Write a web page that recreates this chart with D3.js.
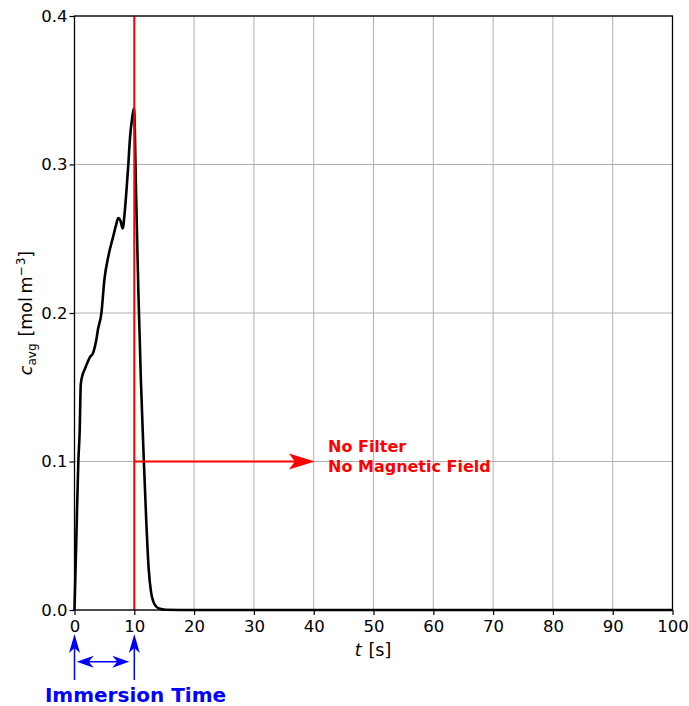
<!DOCTYPE html>
<html><head><meta charset="utf-8">
<script src="https://cdn.jsdelivr.net/npm/d3@7"></script>
<style>
html,body{margin:0;padding:0;background:#fff;}
svg{display:block;}
text{font-family:"DejaVu Sans",sans-serif;}
</style></head>
<body>
<svg id="chart" width="689" height="706"></svg>
<script>
const time = [0, 0.3, 0.64, 0.87, 1.05, 1.4, 1.7, 2.1, 2.54, 3.1, 3.65, 3.93, 4.5, 5.0, 5.65, 6.5, 7.0, 7.3, 7.7, 8.05, 8.4, 8.7, 9.0, 9.3, 9.6, 9.95, 10.3, 10.67, 11.1, 11.6, 12.0, 12.4, 12.8, 13.2, 13.7, 14.3, 15.2, 20, 30, 40, 50, 60, 70, 80, 90, 100];
const cavg = [0, 0.047, 0.1, 0.121, 0.152, 0.159, 0.162, 0.166, 0.17, 0.173, 0.182, 0.189, 0.2, 0.2225, 0.238, 0.252, 0.26, 0.264, 0.262, 0.257, 0.268, 0.283, 0.30, 0.319, 0.33, 0.338, 0.28, 0.216, 0.155, 0.1, 0.06, 0.028, 0.012, 0.0055, 0.0022, 0.0008, 0.0002, 0, 0, 0, 0, 0, 0, 0, 0, 0];
const xTicks = [0,10,20,30,40,50,60,70,80,90,100];
const yTicks = [0.0,0.1,0.2,0.3,0.4];
const immersionEnd = 10;
const markerLevel = 0.1;
const markerArrowEnd = 40.2;
const noteLines = ["No Filter","No Magnetic Field"];
const immersionLabel = "Immersion Time";

const svg = d3.select("#chart");
const m = {l:74.5, t:16, r:689-672.5, b:706-610};
const W = 689-m.l-m.r, H = 706-m.t-m.b;
const x = d3.scaleLinear().domain([0,100]).range([m.l, m.l+W]);
const y = d3.scaleLinear().domain([0,0.4]).range([m.t+H, m.t]);

// grid
const g = svg.append("g");
g.selectAll("line.gx").data(xTicks).join("line")
  .attr("x1",d=>x(d)).attr("x2",d=>x(d)).attr("y1",m.t).attr("y2",m.t+H)
  .attr("stroke","#b0b0b0").attr("stroke-width",1);
g.selectAll("line.gy").data(yTicks).join("line")
  .attr("y1",d=>y(d)).attr("y2",d=>y(d)).attr("x1",m.l).attr("x2",m.l+W)
  .attr("stroke","#b0b0b0").attr("stroke-width",1);

// curve
const data = time.map((t,i)=>({t, c:cavg[i]}));
svg.append("path").datum(data)
  .attr("fill","none").attr("stroke","#000").attr("stroke-width",2.6)
  .attr("stroke-linejoin","round")
  .attr("d", d3.line().x(d=>x(d.t)).y(d=>y(d.c)).curve(d3.curveMonotoneX));

// red annotations
svg.append("line").attr("x1",x(immersionEnd)).attr("x2",x(immersionEnd))
  .attr("y1",y(0)).attr("y2",y(0.4)).attr("stroke","#ff0000").attr("stroke-width",2);
const ay = y(markerLevel);
const tipX = x(markerArrowEnd);
svg.append("line").attr("x1",x(immersionEnd)).attr("x2",tipX-20)
  .attr("y1",ay).attr("y2",ay).attr("stroke","#ff0000").attr("stroke-width",2);
svg.append("path")
  .attr("d",`M${tipX},${ay} L${tipX-26},${ay-8} L${tipX-20},${ay} L${tipX-26},${ay+8} Z`)
  .attr("fill","#ff0000");
svg.append("g").selectAll("text").data(noteLines).join("text")
  .attr("x",328).attr("y",(d,i)=>452+i*20)
  .attr("fill","#ff0000").attr("font-weight","bold").attr("font-size",16)
  .text(d=>d);

// axes frame
svg.append("rect").attr("x",m.l).attr("y",m.t).attr("width",W).attr("height",H)
  .attr("fill","none").attr("stroke","#000").attr("stroke-width",1.3);

// axes
const xa = svg.append("g").attr("transform",`translate(0,${m.t+H})`)
  .call(d3.axisBottom(x).tickValues(xTicks).tickSize(5).tickFormat(d3.format("d")));
const ya = svg.append("g").attr("transform",`translate(${m.l},0)`)
  .call(d3.axisLeft(y).tickValues(yTicks).tickSize(5).tickFormat(d3.format(".1f")));
[xa,ya].forEach(a=>{
  a.select(".domain").remove();
  a.selectAll(".tick line").attr("stroke","#000").attr("stroke-width",1.2);
  a.selectAll(".tick text").attr("font-size",16.5).attr("fill","#000")
   .attr("font-family","'DejaVu Sans',sans-serif");
});
xa.selectAll(".tick text").attr("dy","0.95em").attr("y",6);
ya.selectAll(".tick text").attr("x",-7);

// axis labels
const xl = svg.append("text").attr("x",373).attr("y",656).attr("text-anchor","middle")
  .attr("font-size",17.5).attr("fill","#000");
xl.append("tspan").attr("font-style","italic").text("t");
xl.append("tspan").text("\u2009\u2009[s]");

const yl = svg.append("text").attr("transform","translate(32,313) rotate(-90)")
  .attr("text-anchor","middle").attr("font-size",17.5).attr("fill","#000");
yl.append("tspan").attr("font-style","italic").text("c");
yl.append("tspan").attr("font-size",12).attr("dy",4).text("avg");
yl.append("tspan").attr("dy",-4).text("\u2009\u2009[mol\u2009m");
yl.append("tspan").attr("font-size",12).attr("dy",-7).text("\u2212\u200a3");
yl.append("tspan").attr("dy",7).text("]");

// blue annotations
const blue = "#0000ff";
const by0 = 680, byTip = 634;
[0, immersionEnd].forEach(t=>{
  const bx = x(t);
  svg.append("line").attr("x1",bx).attr("x2",bx).attr("y1",by0).attr("y2",byTip+12)
    .attr("stroke",blue).attr("stroke-width",1.5);
  svg.append("path")
    .attr("d",`M${bx},${byTip} L${bx-5.5},${byTip+19} L${bx},${byTip+14} L${bx+5.5},${byTip+19} Z`)
    .attr("fill",blue);
});
const hy = 661.7, hx1 = 76.7, hx2 = 129.3;
svg.append("line").attr("x1",hx1+10).attr("x2",hx2-10).attr("y1",hy).attr("y2",hy)
  .attr("stroke",blue).attr("stroke-width",1.5);
svg.append("path")
  .attr("d",`M${hx1},${hy} L${hx1+17},${hy-6} L${hx1+12},${hy} L${hx1+17},${hy+6} Z`)
  .attr("fill",blue);
svg.append("path")
  .attr("d",`M${hx2},${hy} L${hx2-17},${hy-6} L${hx2-12},${hy} L${hx2-17},${hy+6} Z`)
  .attr("fill",blue);
svg.append("text").attr("x",135.5).attr("y",702).attr("text-anchor","middle")
  .attr("font-size",20).attr("font-weight","bold").attr("fill",blue).text(immersionLabel);
</script>
</body></html>
